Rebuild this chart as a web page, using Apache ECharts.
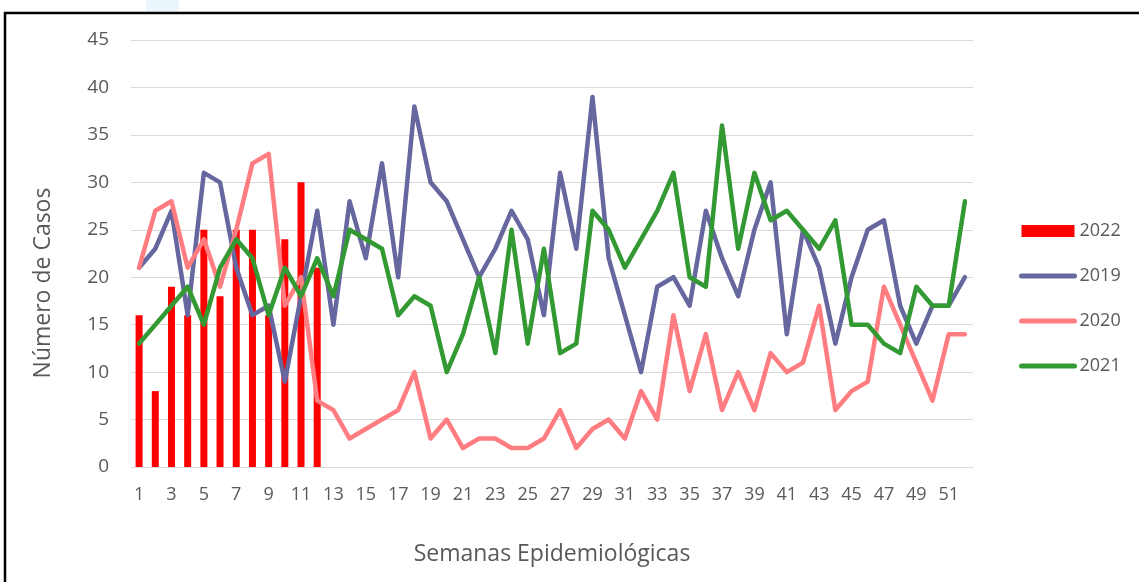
<!DOCTYPE html>
<html>
<head>
<meta charset="utf-8">
<script src="https://cdn.jsdelivr.net/npm/echarts@6/dist/echarts.min.js"></script>
<style>
  html, body { margin: 0; padding: 0; background: #ffffff; }
  #chart { width: 1139px; height: 582px; }
</style>
</head>
<body>
<div id="chart"></div>
<script>
// semanas epidemiológicas
const weeks = ['1','2','3','4','5','6','7','8','9','10','11','12','13','14','15','16','17','18','19','20',
  '21','22','23','24','25','26','27','28','29','30','31','32','33','34','35','36','37','38','39','40',
  '41','42','43','44','45','46','47','48','49','50','51','52'];

// casos por año
const cases2022 = [16, 8, 19, 16, 25, 18, 25, 25, 16, 24, 30, 21];
const cases2019 = [21, 23, 27, 16, 31, 30, 21, 16, 17, 9, 18, 27, 15, 28, 22, 32, 20, 38, 30, 28,
  24, 20, 23, 27, 24, 16, 31, 23, 39, 22, 16, 10, 19, 20, 17, 27, 22, 18, 25, 30,
  14, 25, 21, 13, 20, 25, 26, 17, 13, 17, 17, 20];
const cases2020 = [21, 27, 28, 21, 24, 19, 25, 32, 33, 17, 20, 7, 6, 3, 4, 5, 6, 10, 3, 5,
  2, 3, 3, 2, 2, 3, 6, 2, 4, 5, 3, 8, 5, 16, 8, 14, 6, 10, 6, 12,
  10, 11, 17, 6, 8, 9, 19, 15, 11, 7, 14, 14];
const cases2021 = [13, 15, 17, 19, 15, 21, 24, 22, 16, 21, 18, 22, 18, 25, 24, 23, 16, 18, 17, 10,
  14, 20, 12, 25, 13, 23, 12, 13, 27, 25, 21, 24, 27, 31, 20, 19, 36, 23, 31, 26,
  27, 25, 23, 26, 15, 15, 13, 12, 19, 17, 17, 28];

const yTicks = { min: 0, max: 45, step: 5 };

const textColor = '#595959';
const font = 'Open Sans';
const colors = { c2022: '#ff0000', c2019: '#67679f', c2020: '#ff7c80', c2021: '#339933' };

const myChart = echarts.init(document.getElementById('chart'), null, { renderer: 'canvas' });

function lineSeries(name, data, color) {
  return {
    type: 'line',
    name: name,
    data: data,
    symbol: 'none',
    smooth: false,
    lineStyle: { color: color, width: 4.5, cap: 'round', join: 'round' },
    itemStyle: { color: color },
    z: 3
  };
}

// icono de leyenda: solo la línea, sin el punto
function lineLegend(name, color) {
  return {
    name: name,
    itemStyle: { opacity: 0 },
    lineStyle: { color: color, width: 5, cap: 'round' }
  };
}

const option = {
  animation: false,
  backgroundColor: '#ffffff',
  textStyle: { fontFamily: font },
  // marco del gráfico y título del eje Y
  graphic: [
    { type: 'rect', left: 146, top: 0, shape: { width: 33, height: 11 }, style: { fill: '#eaf5fc' }, silent: true },
    { type: 'rect', shape: { x: 5, y: 13, width: 1160, height: 600 }, style: { fill: 'none', stroke: '#000000', lineWidth: 2.5 }, silent: true },
    {
      type: 'text',
      x: 43, y: 283,
      rotation: Math.PI / 2,
      style: { text: 'Número de Casos', fontFamily: font, fontSize: 23, fill: textColor, align: 'center', verticalAlign: 'middle' },
      silent: true
    }
  ],
  legend: {
    orient: 'vertical',
    left: 1019,
    top: 222,
    padding: 0,
    itemWidth: 53,
    itemHeight: 12,
    itemGap: 27,
    itemTextGap: 6,
    textStyle: { fontFamily: font, fontSize: 18, color: textColor },
    data: [
      { name: '2022', icon: 'rect' },
      lineLegend('2019', colors.c2019),
      lineLegend('2020', colors.c2020),
      lineLegend('2021', colors.c2021)
    ]
  },
  grid: { left: 131, right: 166, top: 40, bottom: 115 },
  xAxis: {
    type: 'category',
    data: weeks,
    boundaryGap: true,
    name: 'Semanas Epidemiológicas',
    nameLocation: 'middle',
    nameGap: 76,
    nameTextStyle: { fontFamily: font, fontSize: 23, color: textColor },
    axisLine: { show: true, lineStyle: { color: '#d9d9d9', width: 1 } },
    axisTick: { show: false },
    axisLabel: { interval: 1, margin: 19, fontFamily: font, fontSize: 18, color: textColor }
  },
  yAxis: {
    type: 'value',
    min: yTicks.min,
    max: yTicks.max,
    interval: yTicks.step,
    axisLine: { show: false },
    axisTick: { show: false },
    splitLine: { lineStyle: { color: '#d9d9d9', width: 1 } },
    axisLabel: { margin: 22, fontFamily: font, fontSize: 19, color: textColor }
  },
  series: [
    {
      type: 'bar',
      name: '2022',
      data: cases2022,
      barWidth: 7,
      itemStyle: { color: colors.c2022 },
      z: 2
    },
    lineSeries('2019', cases2019, colors.c2019),
    lineSeries('2020', cases2020, colors.c2020),
    lineSeries('2021', cases2021, colors.c2021)
  ]
};

myChart && myChart.setOption(option);
</script>
</body>
</html>
